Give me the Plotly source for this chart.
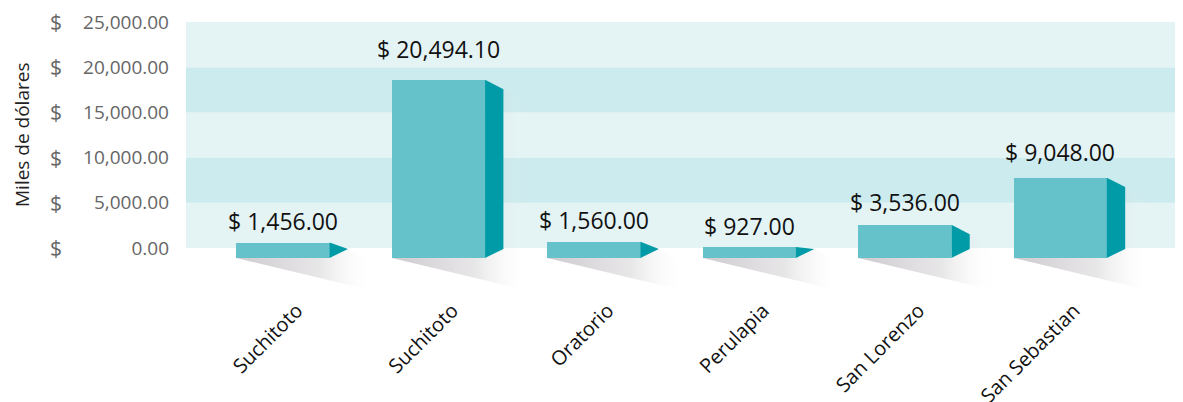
import plotly.graph_objects as go

# ---- data ----
categories = ["Suchitoto", "Suchitoto", "Oratorio", "Perulapia", "San Lorenzo", "San Sebastian"]
values = [1456.00, 20494.10, 1560.00, 927.00, 3536.00, 9048.00]
value_labels = ["$ 1,456.00", "$ 20,494.10", "$ 1,560.00", "$ 927.00", "$ 3,536.00", "$ 9,048.00"]
y_tickvals = [0, 5000, 10000, 15000, 20000, 25000]
y_ticktext = ["0.00", "5,000.00", "10,000.00", "15,000.00", "20,000.00", "25,000.00"]

# ---- style / pseudo-3D geometry constants ----
FRONT = "#66C2CA"
SIDE = "#009BA6"
BAND_LIGHT = "#E4F4F5"
BAND_DARK = "#CCEBEE"
FONT = "Open Sans"
HALF_W = 0.30        # half width of bar front (category units)
SIDE_W = 0.118       # depth of side face
SHADOW_EXT = 0.17    # shadow extends beyond side
BASE = -1100         # front face bottom (perspective)
PERSP = 0.946        # perspective scaling of front height
FRONT_DROP = 775
SIDE_TOP_DROP = 1050
SIDE_BOTTOM = -100
SHADOW_LOW = -4760
SHADOW_UP_DROP = 1650

x = list(range(len(categories)))
front_top = [PERSP * v - FRONT_DROP for v in values]

fig = go.Figure()

# front faces
fig.add_trace(go.Bar(
    x=x, y=[t - BASE for t in front_top], base=[BASE] * len(x), width=2 * HALF_W,
    marker=dict(color=FRONT, line=dict(width=0)), hoverinfo="skip", showlegend=False))

for xi, ft in zip(x, front_top):
    r_top = max(ft - SIDE_TOP_DROP, SIDE_BOTTOM)
    r_bot = SIDE_BOTTOM
    xl = xi - HALF_W
    xr = xi + HALF_W
    xs = xr + SIDE_W
    xe = xs + SHADOW_EXT
    # shadow
    fig.add_trace(go.Scatter(
        x=[xl, xe, xe, xs, xs, xr, xl],
        y=[BASE, SHADOW_LOW, r_top - SHADOW_UP_DROP, r_top, r_bot, BASE, BASE],
        mode="lines", line=dict(width=0), fill="toself",
        fillgradient=dict(type="horizontal",
                          colorscale=[[0, "rgba(145,135,145,0.45)"], [0.6, "rgba(165,160,165,0.26)"], [1, "rgba(255,255,255,0)"]]),
        hoverinfo="skip", showlegend=False))
    # side face
    fig.add_trace(go.Scatter(
        x=[xr, xs, xs, xr, xr],
        y=[ft, r_top, r_bot, BASE, ft],
        mode="lines", line=dict(width=0), fill="toself", fillcolor=SIDE,
        hoverinfo="skip", showlegend=False))

# background bands
shapes = []
for i in range(len(y_tickvals) - 1):
    shapes.append(dict(type="rect", xref="paper", yref="y", x0=0, x1=1,
                       y0=y_tickvals[i], y1=y_tickvals[i + 1],
                       fillcolor=BAND_LIGHT if i % 2 == 0 else BAND_DARK,
                       line=dict(width=0), layer="below"))

annotations = []
for xi, v, lab in zip(x, values, value_labels):
    annotations.append(dict(x=xi, y=v, xref="x", yref="y", text=lab, showarrow=False,
                            yanchor="middle", yshift=14,
                            font=dict(family=FONT, size=23, color="#111111")))
for tv in y_tickvals:
    annotations.append(dict(x=0, y=tv, xref="paper", yref="y", text="$", showarrow=False,
                            xanchor="left", xshift=-138,
                            font=dict(family=FONT, size=21, color="#666666")))
annotations.append(dict(x=0, y=12500, xref="paper", yref="y", text="Miles de dólares",
                        showarrow=False, textangle=-90, xanchor="center", xshift=-164,
                        font=dict(family=FONT, size=19, color="#222222")))

# page body has an 8px margin, so the figure is 8px smaller than the window
fig.update_layout(
    width=1175, height=394,
    margin=dict(l=178, r=0, t=14, b=104),
    paper_bgcolor="white", plot_bgcolor="white",
    shapes=shapes, annotations=annotations,
    bargap=0,
    xaxis=dict(range=[-0.624, 5.79], tickvals=x, ticktext=categories, tickangle=-45,
               showgrid=False, zeroline=False, showline=False, automargin=False,
               ticklabelshift=14, ticklabelstandoff=-4,
               tickfont=dict(family=FONT, size=20, color="#111111")),
    yaxis=dict(range=[-5531, 25000], tickvals=y_tickvals, ticktext=y_ticktext,
               showgrid=False, zeroline=False, showline=False, automargin=False,
               ticklabelstandoff=16,
               tickfont=dict(family=FONT, size=19, color="#666666")),
)

fig.write_html("out.html")
